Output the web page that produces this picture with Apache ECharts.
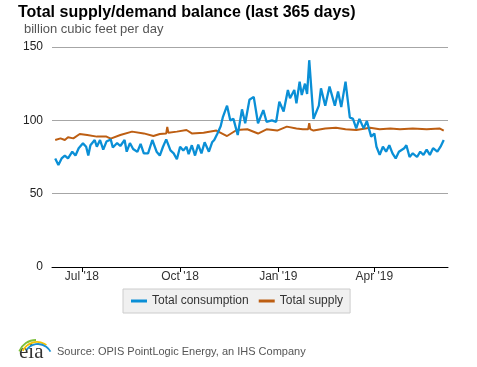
<!DOCTYPE html>
<html>
<head>
<meta charset="utf-8">
<script src="https://cdn.jsdelivr.net/npm/echarts@6/dist/echarts.min.js"></script>
<style>
  html, body { margin: 0; padding: 0; background: #fff; }
  #chart { width: 477px; height: 367px; }
</style>
</head>
<body>
<div id="chart"></div>
<script>
// ---- data ----
const consumptionDates = [
  "2018-06-06","2018-06-09","2018-06-12","2018-06-15","2018-06-18","2018-06-22","2018-06-25","2018-06-28",
  "2018-07-02","2018-07-05","2018-07-07","2018-07-09","2018-07-13","2018-07-15","2018-07-18","2018-07-21",
  "2018-07-24","2018-07-28","2018-07-30","2018-08-03","2018-08-06","2018-08-10","2018-08-12","2018-08-15",
  "2018-08-18","2018-08-22","2018-08-25","2018-08-28","2018-09-01","2018-09-05","2018-09-09","2018-09-12",
  "2018-09-15","2018-09-18","2018-09-22","2018-09-25","2018-09-28","2018-10-01","2018-10-04","2018-10-07",
  "2018-10-09","2018-10-12","2018-10-15","2018-10-18","2018-10-21","2018-10-24","2018-10-28","2018-10-31",
  "2018-11-02","2018-11-05","2018-11-08","2018-11-10","2018-11-14","2018-11-17","2018-11-20","2018-11-24",
  "2018-11-28","2018-12-01","2018-12-05","2018-12-09","2018-12-13","2018-12-18","2018-12-21","2018-12-26",
  "2018-12-30","2019-01-02","2019-01-06","2019-01-10","2019-01-12","2019-01-16","2019-01-18","2019-01-21",
  "2019-01-23","2019-01-26","2019-01-28","2019-01-30","2019-02-03","2019-02-08","2019-02-10","2019-02-14",
  "2019-02-18","2019-02-23","2019-02-26","2019-03-01","2019-03-05","2019-03-09","2019-03-12","2019-03-15",
  "2019-03-18","2019-03-22","2019-03-25","2019-03-29","2019-04-01","2019-04-03","2019-04-06","2019-04-09",
  "2019-04-12","2019-04-15","2019-04-18","2019-04-21","2019-04-24","2019-04-29","2019-05-01","2019-05-04",
  "2019-05-07","2019-05-11","2019-05-14","2019-05-17","2019-05-20","2019-05-23","2019-05-26","2019-05-30",
  "2019-06-02","2019-06-05"
];
const consumptionValues = [
  74, 69.5, 74, 76, 74, 78.6, 76, 81,
  84.3, 82, 76, 83, 86.6, 82, 86.6, 80,
  85.5, 87, 81.5, 84.5, 82.5, 86.6, 78.6, 84.5,
  80.5, 78.5, 84, 77.5, 77.5, 86.6, 78.6, 76,
  82, 87, 79.5, 77.5, 73.5, 82, 79.5, 82,
  77, 83, 76, 83.5, 77.5, 85, 78.6, 85,
  86.6, 91, 96, 102, 110, 100, 101, 90,
  107.5, 98, 114, 116, 98, 107, 99, 100,
  99, 112.7, 106, 120.7, 115, 120.7, 111.6, 126.4,
  117.3, 125, 118, 141, 101, 110, 121.8, 110,
  123, 110, 119.6, 109, 126.4, 102, 101, 94.5,
  101, 94.5, 99.5, 88.9, 91, 82, 76.4, 82,
  78.6, 83, 77.5, 74, 78.6, 81, 83, 75,
  77.5, 75, 78.6, 76.4, 80, 76.4, 81, 78.6,
  82, 86.6
];
const supplyDates = [
  "2018-06-06","2018-06-11","2018-06-15","2018-06-18","2018-06-23","2018-06-29","2018-07-06","2018-07-15",
  "2018-07-24","2018-07-28","2018-08-06","2018-08-17","2018-08-28","2018-09-06","2018-09-12","2018-09-18",
  "2018-09-19","2018-09-20","2018-09-28","2018-10-07","2018-10-12","2018-10-23","2018-11-04","2018-11-14",
  "2018-11-23","2018-12-03","2018-12-13","2018-12-21","2018-12-31","2019-01-09","2019-01-18","2019-01-24",
  "2019-01-29","2019-01-30","2019-01-31","2019-02-03","2019-02-14","2019-02-24","2019-03-05","2019-03-15",
  "2019-03-28","2019-04-06","2019-04-16","2019-04-25","2019-05-07","2019-05-20","2019-06-01","2019-06-05"
];
const supplyValues = [
  86.6, 87.7, 86.6, 88.4, 87.7, 90.7, 90, 88.9,
  88.9, 87.5, 90, 92.3, 91.1, 89.3, 90.7, 91,
  95.5, 91.6, 92.3, 93.4, 91.1, 91.6, 93, 89.3,
  93.4, 93.9, 91, 93.9, 93, 95.7, 94.5, 93.9,
  94, 98, 94, 93, 94.5, 95, 93.9, 93.4,
  95, 93.9, 94.5, 93.9, 94.5, 93.9, 94.5, 93
];
const seriesNames = ["Total consumption", "Total supply"];
const tickDates = ["2018-07-01", "2018-10-01", "2019-01-01", "2019-04-01"];
const tickLabels = ["Jul '18", "Oct '18", "Jan '19", "Apr '19"];
const axisStart = "2018-06-03";
const axisEnd = "2019-06-09";
const yTicks = [0, 50, 100, 150];

// ---- chart ----
function ts(s) { const p = s.split('-').map(Number); return Date.UTC(p[0], p[1] - 1, p[2]); }
const FONT = 'Liberation Sans, Arial, sans-serif';
const labelMap = {};
tickDates.forEach((d, i) => { labelMap[ts(d)] = tickLabels[i]; });
const tickTs = tickDates.map(ts);

const chart = echarts.init(document.getElementById('chart'), null, { renderer: 'canvas' });
chart.setOption({
  animation: false,
  backgroundColor: '#fff',
  title: [
    { text: 'Total supply/demand balance (last 365 days)', left: 18, top: 5, padding: 0,
      textStyle: { fontFamily: FONT, fontSize: 16, fontWeight: 'bold', color: '#000' } },
    { text: 'billion cubic feet per day', left: 24, top: 23, padding: 0,
      textStyle: { fontFamily: FONT, fontSize: 13, fontWeight: 'normal', color: '#555' } }
  ],
  legend: {
    data: seriesNames,
    left: 123, top: 289,
    padding: [6, 7, 6, 8],
    itemGap: 10,
    itemWidth: 16, itemHeight: 3,
    icon: 'rect',
    backgroundColor: '#f0f0f0',
    borderColor: '#cccccc', borderWidth: 1,
    textStyle: { fontFamily: FONT, fontSize: 12, color: '#333' }
  },
  grid: { left: 52, right: 29, top: 47, bottom: 100, containLabel: false },
  xAxis: {
    type: 'value',
    min: ts(axisStart), max: ts(axisEnd),
    axisLine: { show: true, lineStyle: { color: '#000', width: 1 } },
    axisTick: { show: true, customValues: tickTs, length: 5, lineStyle: { color: '#000' } },
    axisLabel: { customValues: tickTs, formatter: v => labelMap[v] || '', margin: 4,
      fontFamily: FONT, fontSize: 12, color: '#333' },
    splitLine: { show: false }
  },
  yAxis: {
    type: 'value', min: yTicks[0], max: yTicks[yTicks.length - 1], interval: 50,
    axisLine: { show: false }, axisTick: { show: false },
    axisLabel: { margin: 9, fontFamily: FONT, fontSize: 12, color: '#222' },
    splitLine: { lineStyle: { color: '#a6a6a6', width: 1 } }
  },
  series: [
    { name: seriesNames[0], type: 'line', symbol: 'none', color: '#0a8fd6',
      lineStyle: { width: 2.3, color: '#0a8fd6' },
      data: consumptionDates.map((d, i) => [ts(d), consumptionValues[i]]), z: 3 },
    { name: seriesNames[1], type: 'line', symbol: 'none', color: '#bd5e12',
      lineStyle: { width: 2, color: '#bd5e12' },
      data: supplyDates.map((d, i) => [ts(d), supplyValues[i]]), z: 2 }
  ],
  graphic: [
    { type: 'text', left: 57, top: 346,
      style: { text: 'Source: OPIS PointLogic Energy, an IHS Company', fontFamily: FONT, fontSize: 11, fill: '#555' } },
    { type: 'text', left: 19, top: 342,
      style: { text: 'eia', fontFamily: 'Liberation Serif, serif', fontSize: 21, fill: '#333' } },
    { type: 'arc', shape: { cx: 36, cy: 358, r: 18, startAngle: Math.PI * 1.12, endAngle: Math.PI * 1.5 },
      style: { stroke: '#7cbf3a', lineWidth: 1.8, fill: null } },
    { type: 'arc', shape: { cx: 37, cy: 358, r: 16, startAngle: Math.PI * 1.15, endAngle: Math.PI * 1.7 },
      style: { stroke: '#f2c200', lineWidth: 1.8, fill: null } },
    { type: 'arc', shape: { cx: 38, cy: 358, r: 14, startAngle: Math.PI * 1.2, endAngle: Math.PI * 1.85 },
      style: { stroke: '#1a8fd0', lineWidth: 1.8, fill: null } }
  ]
});
</script>
</body>
</html>
